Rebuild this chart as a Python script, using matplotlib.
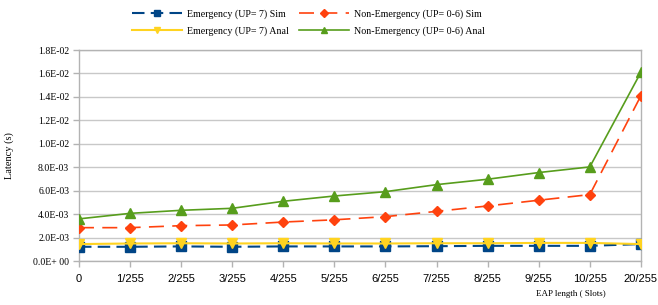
import numpy as np
import matplotlib
matplotlib.use('Agg')
import matplotlib.pyplot as plt

# category labels along the x axis
eap_lengths = ['0', '1/255', '2/255', '3/255', '4/255', '5/255', '6/255',
               '7/255', '8/255', '9/255', '10/255', '20/255']

# latency values (s)
emerg_sim = [1.22e-3, 1.22e-3, 1.25e-3, 1.22e-3, 1.25e-3, 1.25e-3, 1.25e-3,
             1.27e-3, 1.30e-3, 1.30e-3, 1.30e-3, 1.45e-3]
nonemerg_sim = [2.85e-3, 2.85e-3, 3.02e-3, 3.08e-3, 3.33e-3, 3.52e-3, 3.79e-3,
                4.24e-3, 4.70e-3, 5.19e-3, 5.67e-3, 1.41e-2]
emerg_anal = [1.45e-3, 1.50e-3, 1.52e-3, 1.50e-3, 1.52e-3, 1.50e-3, 1.50e-3,
              1.52e-3, 1.52e-3, 1.55e-3, 1.55e-3, 1.45e-3]
nonemerg_anal = [3.60e-3, 4.07e-3, 4.33e-3, 4.50e-3, 5.10e-3, 5.55e-3, 5.92e-3,
                 6.52e-3, 6.98e-3, 7.55e-3, 8.03e-3, 1.61e-2]

y_ticks = np.arange(0, 0.0181, 0.002)
y_labels = ['0.0E+ 00', '2.0E-03', '4.0E-03', '6.0E-03', '8.0E-03',
            '1.0E-02', '1.2E-02', '1.4E-02', '1.6E-02', '1.8E-02']

serif = 'Liberation Serif'
sans = 'Liberation Sans'

fig = plt.figure(figsize=(6.58, 3.05), dpi=100)
ax = fig.add_axes([0.120, 0.144, 0.854, 0.692])

x = np.arange(len(eap_lengths))

l1, = ax.plot(x, emerg_sim, color='#004586', lw=1.5, dashes=(6, 3),
              marker='s', ms=6.5, label='Emergency (UP= 7) Sim', zorder=3)
l2, = ax.plot(x, nonemerg_sim, color='#ff420e', lw=1.2, dashes=(9, 5),
              marker='D', ms=5.5, label='Non-Emergency (UP= 0-6) Sim', zorder=4)
l3, = ax.plot(x, emerg_anal, color='#ffd320', lw=1.5,
              marker='v', ms=7, label='Emergency (UP= 7) Anal', zorder=5)
l4, = ax.plot(x, nonemerg_anal, color='#579d1c', lw=1.2,
              marker='^', ms=7, label='Non-Emergency (UP= 0-6) Anal', zorder=4)

ax.set_xlim(0, len(eap_lengths) - 1)
ax.set_ylim(0, 0.018)
ax.set_xticks(x)
ax.set_xticklabels(eap_lengths, fontfamily=sans, fontsize=8)
ax.set_yticks(y_ticks)
ax.set_yticklabels(y_labels, fontfamily=serif, fontsize=7)
ax.tick_params(axis='both', length=4, color='#b3b3b3', width=1, pad=3)
ax.tick_params(axis='x', pad=5)

ax.yaxis.grid(True, color='#c8c8c8', lw=1)
ax.set_axisbelow(True)
for s in ax.spines.values():
    s.set_color('#b3b3b3')
    s.set_linewidth(1)

ax.set_ylabel('Latency (s)', fontfamily=serif, fontsize=7.5, labelpad=14)
fig.text(0.868, 0.03, 'EAP length ( Slots)', fontfamily=serif, fontsize=6.5,
         ha='center')

# legend is filled column by column, so Sim/Anal pairs go first
leg = fig.legend(handles=[l1, l3, l2, l4], loc='upper left',
                 bbox_to_anchor=(0.187, 1.0), ncol=2, frameon=False,
                 prop={'family': serif, 'size': 7.2}, handlelength=5.0,
                 columnspacing=1.0, handletextpad=0.5, labelspacing=0.75,
                 markerscale=0.7)

fig.savefig('out.png', dpi=100)
